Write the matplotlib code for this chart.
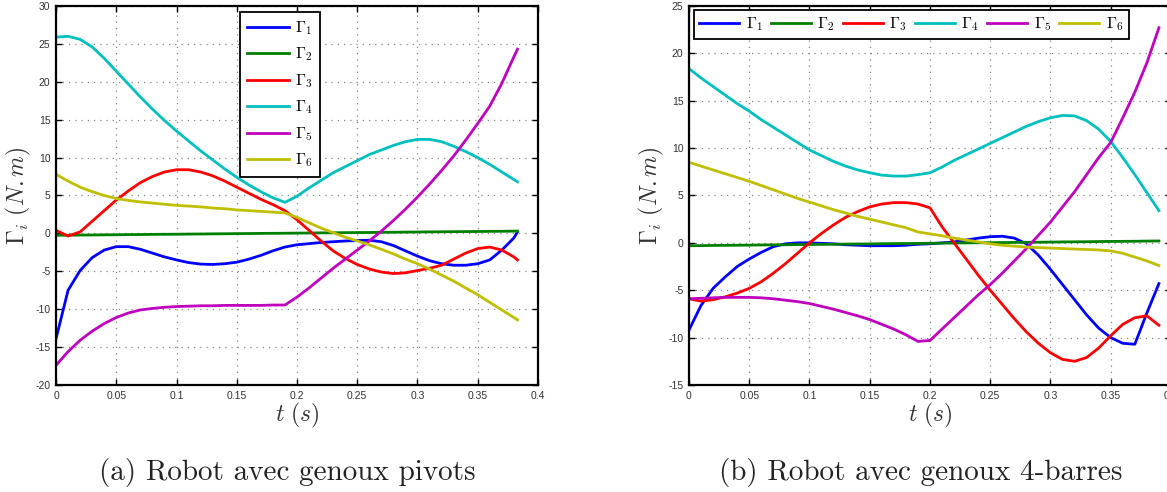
import matplotlib
matplotlib.use("Agg")
import matplotlib.pyplot as plt
import numpy as np

plt.rcParams['mathtext.fontset'] = 'cm'

# ---- (a) genoux pivots ----
t_a = [0, 0.01, 0.02, 0.03, 0.04, 0.05, 0.06, 0.07, 0.08, 0.09,
       0.10, 0.11, 0.12, 0.13, 0.14, 0.15, 0.16, 0.17, 0.18, 0.19,
       0.20, 0.21, 0.22, 0.23, 0.24, 0.25, 0.26, 0.27, 0.28, 0.29,
       0.30, 0.31, 0.32, 0.33, 0.34, 0.35, 0.36, 0.37, 0.38, 0.383]
g1_a = [-13.9, -7.5, -4.9, -3.2, -2.2, -1.75, -1.75, -2.1, -2.6, -3.1,
        -3.5, -3.85, -4.05, -4.1, -4.0, -3.8, -3.4, -2.9, -2.3, -1.8,
        -1.5, -1.35, -1.2, -1.1, -1.0, -0.95, -0.9, -1.1, -1.6, -2.3,
        -3.0, -3.6, -4.0, -4.2, -4.2, -4.0, -3.5, -2.2, -0.6, 0.2]
g2_a = [-0.25, -0.24, -0.22, -0.21, -0.19, -0.18, -0.16, -0.15, -0.13, -0.12,
        -0.11, -0.09, -0.08, -0.06, -0.05, -0.03, -0.02, 0.0, 0.01, 0.02,
        0.04, 0.05, 0.07, 0.08, 0.1, 0.11, 0.12, 0.14, 0.15, 0.17,
        0.18, 0.2, 0.21, 0.23, 0.24, 0.25, 0.27, 0.28, 0.3, 0.3]
g3_a = [0.4, -0.35, 0.2, 1.6, 3.0, 4.4, 5.6, 6.7, 7.5, 8.1,
        8.4, 8.4, 8.1, 7.6, 6.9, 6.1, 5.3, 4.5, 3.8, 3.0,
        1.8, 0.4, -1.0, -2.3, -3.3, -4.1, -4.7, -5.1, -5.3, -5.2,
        -4.9, -4.6, -4.2, -3.4, -2.6, -2.0, -1.8, -2.2, -3.1, -3.5]
g4_a = [25.9, 26.0, 25.6, 24.6, 23.1, 21.4, 19.7, 18.0, 16.4, 14.9,
        13.5, 12.2, 10.9, 9.7, 8.5, 7.4, 6.4, 5.5, 4.7, 4.1,
        4.9, 6.0, 7.0, 8.0, 8.8, 9.6, 10.4, 11.0, 11.6, 12.1,
        12.4, 12.4, 12.1, 11.5, 10.8, 10.0, 9.1, 8.1, 7.1, 6.8]
g5_a = [-17.4, -15.6, -14.1, -12.9, -11.9, -11.1, -10.5, -10.1, -9.9, -9.75,
        -9.65, -9.6, -9.55, -9.55, -9.5, -9.5, -9.5, -9.5, -9.45, -9.45,
        -8.4, -7.2, -5.9, -4.6, -3.4, -2.2, -1.0, 0.3, 1.7, 3.2,
        4.8, 6.5, 8.3, 10.2, 12.3, 14.5, 16.8, 19.8, 23.3, 24.3]
g6_a = [7.8, 6.9, 6.1, 5.5, 5.0, 4.6, 4.35, 4.15, 4.0, 3.85,
        3.7, 3.6, 3.5, 3.35, 3.25, 3.1, 3.0, 2.9, 2.8, 2.7,
        2.1, 1.4, 0.7, 0.1, -0.5, -1.0, -1.5, -2.1, -2.7, -3.4,
        -4.0, -4.7, -5.5, -6.3, -7.2, -8.1, -9.1, -10.1, -11.1, -11.4]

# ---- (b) genoux 4-barres ----
t_b = [0, 0.01, 0.02, 0.03, 0.04, 0.05, 0.06, 0.07, 0.08, 0.09,
       0.10, 0.11, 0.12, 0.13, 0.14, 0.15, 0.16, 0.17, 0.18, 0.19,
       0.20, 0.21, 0.22, 0.23, 0.24, 0.25, 0.26, 0.27, 0.28, 0.29,
       0.30, 0.31, 0.32, 0.33, 0.34, 0.35, 0.36, 0.37, 0.38, 0.39]
g1_b = [-9.2, -6.6, -4.8, -3.6, -2.5, -1.7, -1.0, -0.4, -0.1, 0.0,
        0.0, -0.05, -0.1, -0.2, -0.25, -0.3, -0.3, -0.3, -0.25, -0.15,
        -0.1, 0.0, 0.1, 0.3, 0.5, 0.65, 0.7, 0.5, -0.1, -1.3,
        -2.8, -4.4, -6.0, -7.6, -9.0, -10.0, -10.6, -10.7, -7.4, -4.3]
g2_b = [-0.3, -0.29, -0.27, -0.26, -0.25, -0.24, -0.22, -0.21, -0.2, -0.18,
        -0.17, -0.16, -0.15, -0.13, -0.12, -0.11, -0.09, -0.08, -0.07, -0.06,
        -0.04, -0.03, -0.02, 0.0, 0.01, 0.02, 0.03, 0.05, 0.06, 0.07,
        0.08, 0.1, 0.11, 0.12, 0.14, 0.15, 0.16, 0.17, 0.19, 0.2]
g3_b = [-5.9, -6.15, -6.0, -5.7, -5.3, -4.8, -4.1, -3.2, -2.2, -1.1,
        0.0, 1.0, 1.9, 2.7, 3.3, 3.8, 4.1, 4.25, 4.25, 4.1,
        3.7, 1.7, 0.0, -1.7, -3.4, -5.0, -6.5, -8.0, -9.4, -10.6,
        -11.6, -12.3, -12.5, -12.1, -11.1, -9.8, -8.6, -7.9, -7.7, -8.7]
g4_b = [18.4, 17.4, 16.5, 15.6, 14.7, 13.9, 13.0, 12.2, 11.4, 10.6,
        9.8, 9.2, 8.6, 8.1, 7.7, 7.4, 7.15, 7.05, 7.05, 7.2,
        7.4, 8.0, 8.7, 9.3, 9.9, 10.5, 11.1, 11.7, 12.3, 12.8,
        13.2, 13.45, 13.4, 12.9, 12.0, 10.7, 9.0, 7.2, 5.3, 3.4]
g5_b = [-5.9, -5.85, -5.8, -5.75, -5.75, -5.75, -5.8, -5.9, -6.05, -6.2,
        -6.4, -6.7, -7.0, -7.35, -7.7, -8.1, -8.6, -9.1, -9.7, -10.4,
        -10.3, -9.1, -7.9, -6.7, -5.5, -4.4, -3.2, -1.9, -0.6, 0.8,
        2.2, 3.8, 5.4, 7.2, 9.0, 10.6, 13.2, 15.9, 19.0, 22.7]
g6_b = [8.5, 8.1, 7.7, 7.3, 6.9, 6.5, 6.05, 5.6, 5.15, 4.7,
        4.3, 3.9, 3.5, 3.15, 2.8, 2.5, 2.2, 1.9, 1.6, 1.15,
        0.95, 0.75, 0.5, 0.3, 0.1, -0.1, -0.25, -0.35, -0.45, -0.5,
        -0.55, -0.6, -0.65, -0.7, -0.75, -0.85, -1.1, -1.5, -1.9, -2.4]

labels = [r'$\Gamma_1$', r'$\Gamma_2$', r'$\Gamma_3$',
          r'$\Gamma_4$', r'$\Gamma_5$', r'$\Gamma_6$']
colors = ['b', 'g', 'r', 'c', 'm', 'y']
x_ticks = [0, 0.05, 0.1, 0.15, 0.2, 0.25, 0.3, 0.35, 0.4]
x_ticklabels = ['0', '0.05', '0.1', '0.15', '0.2', '0.25', '0.3', '0.35', '0.4']


def style_axes(ax, ylim, ystep):
    ax.set_xlim(0, 0.4)
    ax.set_ylim(*ylim)
    ax.set_xticks(x_ticks)
    ax.set_xticklabels(x_ticklabels)
    yt = np.arange(ylim[0], ylim[1] + 0.1, ystep)
    ax.set_yticks(yt)
    ax.set_yticklabels(['%d' % v for v in yt])
    ax.tick_params(direction='in', top=True, right=True, length=4,
                   width=1.0, labelsize=7.5, pad=4, labelcolor='#333333')
    for lab in ax.get_xticklabels() + ax.get_yticklabels():
        lab.set_fontfamily('Liberation Sans')
    for s in ax.spines.values():
        s.set_linewidth(1.6)
    ax.grid(True, linestyle=(0, (1, 4)), color='#888888', linewidth=0.9)
    ax.set_xlabel(r'$t\ (s)$', fontsize=17, labelpad=0, color='#333333')
    ax.set_ylabel(r'$\Gamma_i\ (N.m)$', fontsize=17, labelpad=2,
                  color='#333333')


fig = plt.figure(figsize=(11.67, 4.92), dpi=100)
ax1 = fig.add_axes([0.048, 0.2175, 0.413, 0.7703])
ax2 = fig.add_axes([0.5904, 0.2175, 0.413, 0.7703])

for y, c, lab in zip([g1_a, g2_a, g3_a, g4_a, g5_a, g6_a], colors, labels):
    ax1.plot(t_a, y, color=c, linewidth=2, label=lab)
for y, c, lab in zip([g1_b, g2_b, g3_b, g4_b, g5_b, g6_b], colors, labels):
    ax2.plot(t_b, y, color=c, linewidth=2, label=lab)

style_axes(ax1, (-20, 30), 5)
style_axes(ax2, (-15, 25), 5)

leg1 = ax1.legend(loc='upper left', bbox_to_anchor=(0.382, 0.984),
                  borderaxespad=0, fancybox=False, edgecolor='black',
                  fontsize=11.5, handlelength=2.6, labelspacing=0.55,
                  handletextpad=0.4, borderpad=0.45, framealpha=1)
leg1.get_frame().set_linewidth(1.3)
leg2 = ax2.legend(loc='upper left', bbox_to_anchor=(0.01, 0.99), ncol=6,
                  borderaxespad=0, fancybox=False, edgecolor='black',
                  fontsize=11.5, handlelength=2.5, columnspacing=0.5,
                  handletextpad=0.4, borderpad=0.35, framealpha=1)
leg2.get_frame().set_linewidth(1.3)

fig.text(0.246, 0.04, '(a) Robot avec genoux pivots', ha='center',
         va='center', fontsize=21, family='cmr10', color='#222222')
fig.text(0.789, 0.04, '(b) Robot avec genoux 4-barres', ha='center',
         va='center', fontsize=21, family='cmr10', color='#222222')

fig.savefig('out.png', dpi=100)
